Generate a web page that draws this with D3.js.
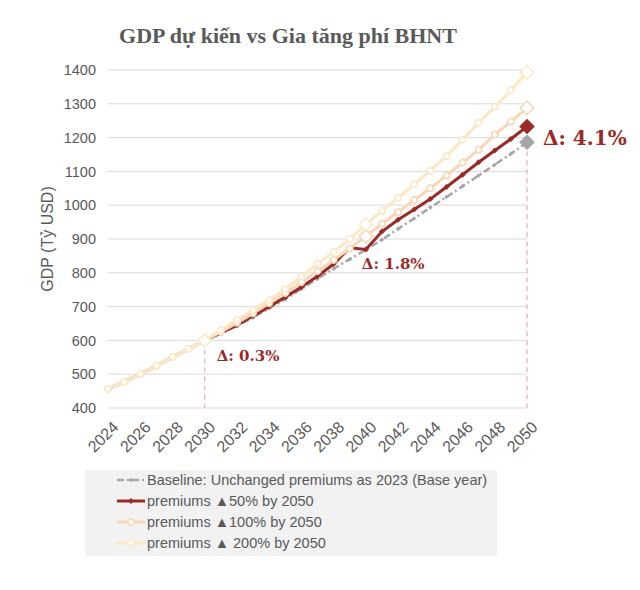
<!DOCTYPE html>
<html>
<head>
<meta charset="utf-8">
<script src="https://cdn.jsdelivr.net/npm/d3@7"></script>
<style>
  body { margin: 0; background: #fff; }
  svg { display: block; }
</style>
</head>
<body>
<div id="chart"></div>
<script>
var width = 640;
var height = 590;
var margin = { top: 70, right: 113, bottom: 182, left: 108 };

// data
var years = d3.range(2024, 2051);
var baseline = [456, 477, 500, 525, 551, 575, 600, 620, 643, 668, 695, 722, 752, 782, 812, 840, 868,
  898, 930, 961, 993, 1024, 1056, 1088, 1120, 1152, 1186];
var prem50 = [456, 477, 500, 525, 551, 575, 600, 622, 645, 672, 700, 728, 758, 790, 826, 874, 869,
  922, 957, 987, 1018, 1054, 1090, 1127, 1162, 1196, 1233];
var prem100 = [456, 477, 500, 525, 551, 575, 600, 625, 652, 680, 710, 740, 772, 805, 838, 872, 908,
  945, 980, 1015, 1050, 1088, 1126, 1164, 1209, 1247, 1288];
var prem200 = [456, 477, 500, 525, 551, 575, 600, 630, 661, 690, 720, 752, 789, 827, 862, 900, 943,
  983, 1022, 1062, 1102, 1145, 1194, 1244, 1291, 1340, 1393];
var yTicks = [400, 500, 600, 700, 800, 900, 1000, 1100, 1200, 1300, 1400];
var xTicks = d3.range(2024, 2051, 2);

// drawn in this order: baseline first, 200% on top
var series = [
  { name: "Baseline: Unchanged premiums as 2023 (Base year)", values: baseline, color: "#a6a6a6", kind: "base", big: [2050] },
  { name: "premiums \u25B250% by 2050", values: prem50, color: "#9b2a26", kind: "red", big: [2050] },
  { name: "premiums \u25B2100% by 2050", values: prem100, color: "#f8d6b6", kind: "light", big: [2040, 2050] },
  { name: "premiums \u25B2 200% by 2050", values: prem200, color: "#fde8c6", kind: "light", big: [2030, 2040, 2050] }
];

var notes = [
  { text: "\u0394: 0.3%", year: 2030, value: 538, size: 15, dx: 12 },
  { text: "\u0394: 1.8%", year: 2040, value: 810, size: 15, dx: -4 },
  { text: "\u0394: 4.1%", year: 2050, value: 1178, size: 20, dx: 16 }
];

const svg = d3.select("#chart")
  .append("svg")
  .attr("width", width)
  .attr("height", height);

var x = d3.scaleLinear()
  .domain([2024, 2050])
  .range([margin.left, width - margin.right]);

var y = d3.scaleLinear()
  .domain([400, 1400])
  .range([height - margin.bottom, margin.top]);

// title
svg.append("text")
  .attr("x", 288)
  .attr("y", 43)
  .attr("text-anchor", "middle")
  .attr("font-family", "Liberation Serif, serif")
  .attr("font-weight", "bold")
  .attr("font-size", 22)
  .attr("fill", "#595959")
  .text("GDP dự kiến vs Gia tăng phí BHNT");

// grid
svg.append("g")
  .selectAll("line")
  .data(yTicks)
  .join("line")
  .attr("x1", margin.left)
  .attr("x2", width - margin.right)
  .attr("y1", (d) => y(d))
  .attr("y2", (d) => y(d))
  .attr("stroke", "#d9d9d9")
  .attr("stroke-width", 1);

// y axis
var yAxis = (g) =>
  g
    .attr("transform", `translate(${margin.left},0)`)
    .call(d3.axisLeft(y).tickValues(yTicks).tickSize(0).tickPadding(12).tickFormat(d3.format("d")))
    .call((g) => g.select(".domain").remove())
    .call((g) => g.selectAll("text")
      .attr("font-family", "Liberation Sans, Arial, sans-serif")
      .attr("font-size", 14.5)
      .attr("fill", "#595959"));

svg.append("g").call(yAxis);

svg.append("text")
  .attr("transform", `translate(53,${(margin.top + height - margin.bottom) / 2}) rotate(-90)`)
  .attr("text-anchor", "middle")
  .attr("font-family", "Liberation Sans, Arial, sans-serif")
  .attr("font-size", 16)
  .attr("fill", "#595959")
  .text("GDP (Tỷ USD)");

// x axis
var xAxis = (g) =>
  g
    .attr("transform", `translate(0,${height - margin.bottom})`)
    .call(d3.axisBottom(x).tickValues(xTicks).tickSize(0).tickFormat(d3.format("d")))
    .call((g) => g.select(".domain").remove())
    .call((g) => g.selectAll("text")
      .attr("font-family", "Liberation Sans, Arial, sans-serif")
      .attr("font-size", 16)
      .attr("fill", "#595959")
      .attr("text-anchor", "end")
      .attr("dy", "0.35em")
      .attr("transform", "translate(5,14) rotate(-45)"));

svg.append("g").call(xAxis);

// dashed guides
svg.append("line")
  .attr("x1", x(2030)).attr("x2", x(2030))
  .attr("y1", y(prem200[6])).attr("y2", y(400))
  .attr("stroke", "#eab1bd").attr("stroke-width", 1.3).attr("stroke-dasharray", "5,4");
svg.append("line")
  .attr("x1", x(2050)).attr("x2", x(2050))
  .attr("y1", y(baseline[26])).attr("y2", y(400))
  .attr("stroke", "#eab1bd").attr("stroke-width", 1.3).attr("stroke-dasharray", "5,4");

var line = d3.line()
  .x((d, i) => x(years[i]))
  .y((d) => y(d));

// rotated square = diamond
var diamond = (s) => d3.symbol().type(d3.symbolSquare).size(s)();
var circle = (s) => d3.symbol().type(d3.symbolCircle).size(s)();

function smallMark(sel, s) {
  if (s.kind === "light") {
    sel.attr("d", circle(30)).attr("fill", "#fff").attr("stroke", s.color).attr("stroke-width", 1.5);
  } else {
    sel.attr("d", diamond(s.kind === "base" ? 10 : 18)).attr("fill", s.color).attr("stroke", "none");
  }
}

series.forEach((s) => {
  var g = svg.append("g");
  var isBase = s.kind === "base";
  g.append("path")
    .datum(s.values)
    .attr("fill", "none")
    .attr("stroke", s.color)
    .attr("stroke-width", isBase ? 2.5 : 3)
    .attr("stroke-dasharray", isBase ? "7,3,2,3" : null)
    .attr("d", line);

  // small markers
  g.selectAll(".pt")
    .data(s.values.map((v, i) => ({ year: years[i], v: v })).filter((d) => s.big.indexOf(d.year) < 0))
    .join("path")
    .attr("transform", (d) => `translate(${x(d.year)},${y(d.v)}) rotate(45)`)
    .call(smallMark, s);

  // big markers
  g.selectAll(".big")
    .data(s.big)
    .join("path")
    .attr("transform", (d) => `translate(${x(d)},${y(s.values[years.indexOf(d)])}) rotate(45)`)
    .attr("d", diamond(90))
    .attr("fill", s.kind === "light" ? "#fff" : s.color)
    .attr("stroke", s.color)
    .attr("stroke-width", 1.5);
});

// annotations
svg.append("g")
  .selectAll("text")
  .data(notes)
  .join("text")
  .attr("x", (d) => x(d.year) + d.dx)
  .attr("y", (d) => y(d.value))
  .attr("font-family", "DejaVu Serif, serif")
  .attr("font-weight", "bold")
  .attr("font-size", (d) => d.size)
  .attr("fill", "#9b2a26")
  .text((d) => d.text);

// legend
var legend = svg.append("g");
legend.append("rect")
  .attr("x", 85).attr("y", 470)
  .attr("width", 412).attr("height", 86)
  .attr("fill", "#f2f2f2");

series.forEach((s, i) => {
  var ly = 480 + i * 21;
  var row = legend.append("g");
  var isBase = s.kind === "base";
  row.append("line")
    .attr("x1", 117).attr("x2", 145)
    .attr("y1", ly).attr("y2", ly)
    .attr("stroke", s.color)
    .attr("stroke-width", isBase ? 2.5 : 3)
    .attr("stroke-dasharray", isBase ? "7,3,2,3" : null);
  row.append("path")
    .attr("transform", `translate(131,${ly}) rotate(45)`)
    .call(smallMark, s);
  row.append("text")
    .attr("x", 147)
    .attr("y", ly)
    .attr("dy", "0.35em")
    .attr("font-family", "Liberation Sans, Arial, sans-serif")
    .attr("font-size", 14.5)
    .attr("fill", "#595959")
    .text(s.name);
});
</script>
</body>
</html>
